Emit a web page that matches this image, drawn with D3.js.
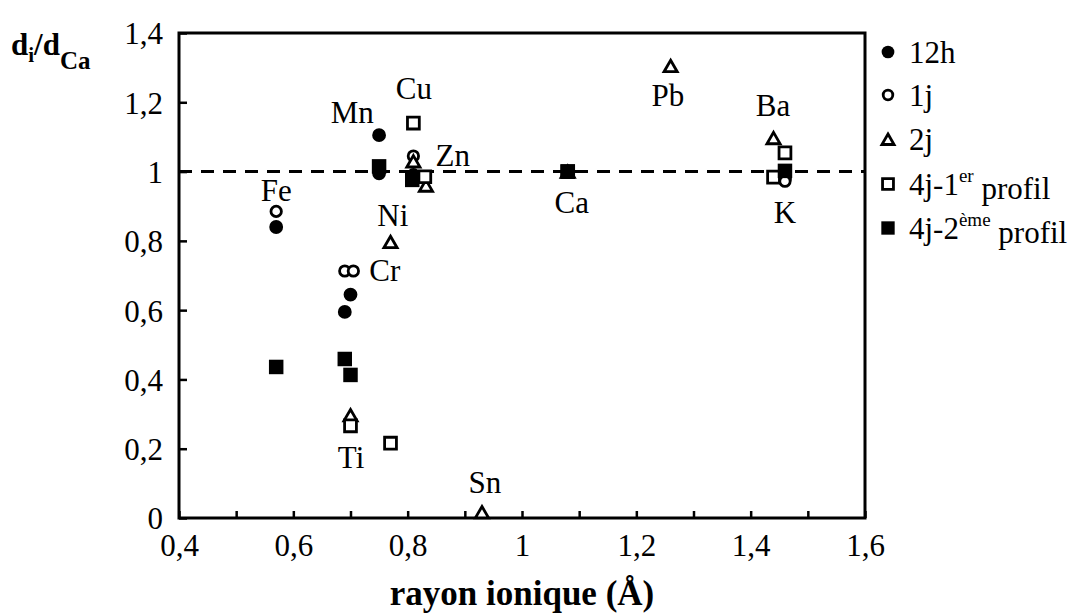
<!DOCTYPE html>
<html><head><meta charset="utf-8">
<script src="https://cdn.jsdelivr.net/npm/d3@7/dist/d3.min.js"></script>
<style>body{margin:0;background:#fff}svg{display:block}svg text{font-family:"Liberation Serif","Times New Roman",serif !important;fill:#000}</style>
</head><body><svg id="c" width="1076" height="614"></svg>
<script>
// ---- data ----
const s12h = [[0.57,0.84],[0.75,1.105],[0.75,0.995],[0.81,0.99],[0.69,0.595],[0.70,0.645],[1.08,1.0],[1.46,0.98]];
const s1j  = [[0.57,0.885],[0.81,1.045],[0.69,0.713],[0.705,0.713],[1.08,1.0],[1.46,0.972]];
const s2j  = [[0.81,1.03],[0.832,0.96],[0.77,0.797],[0.70,0.297],[0.93,0.017],[1.08,1.0],[1.26,1.305],[1.44,1.097]];
const s4j1 = [[0.81,1.14],[0.83,0.985],[0.70,0.266],[0.77,0.216],[1.08,1.0],[1.46,1.054],[1.44,0.984]];
const s4j2 = [[0.57,0.436],[0.69,0.459],[0.70,0.413],[0.75,1.015],[0.808,0.976],[1.08,1.0],[1.46,1.002]];
const elementNames = ["Fe","Mn","Cu","Zn","Ni","Cr","Ti","Sn","Ca","Pb","Ba","K"];
const elementPos = [[0.57,0.947],[0.703,1.172],[0.811,1.241],[0.879,1.048],[0.774,0.875],[0.76,0.716],[0.701,0.176],[0.935,0.104],[1.087,0.912],[1.255,1.221],[1.439,1.192],[1.46,0.883]];
const xTicks = [0.4,0.5,0.6,0.7,0.8,0.9,1.0,1.1,1.2,1.3,1.4,1.5,1.6];
const yTicks = [0,0.2,0.4,0.6,0.8,1.0,1.2,1.4];
const refLine = 1;
const seriesNames = ["12h","1j","2j","4j-1","4j-2"];

// ---- chart ----
const svg = d3.select("#c");
const L=179, R=865, T=33, B=518;
const FS = 31;
const x = d3.scaleLinear().domain([0.4,1.6]).range([L,R]);
const y = d3.scaleLinear().domain([0,1.4]).range([B,T]);
const fmt = v => String(+v.toFixed(1)).replace(".",",");

const gx = svg.append("g").attr("transform",`translate(0,${B})`)
  .call(d3.axisBottom(x).tickValues(xTicks).tickSize(-7).tickPadding(16)
    .tickFormat(d => Math.round(d*10)%2===0 ? fmt(d) : ""));
const gy = svg.append("g").attr("transform",`translate(${L},0)`)
  .call(d3.axisLeft(y).tickValues(yTicks).tickSize(-8).tickPadding(16).tickFormat(fmt));
[gx,gy].forEach(g=>{
  g.attr("font-family","Liberation Serif");
  g.select(".domain").remove();
  g.selectAll(".tick line").attr("stroke","#000").attr("stroke-width",2.5);
  g.selectAll(".tick text").attr("font-size",FS);
});
gy.selectAll(".tick text").attr("dy","0.35em");

svg.append("rect").attr("x",L).attr("y",T).attr("width",R-L).attr("height",B-T)
  .attr("fill","none").attr("stroke","#000").attr("stroke-width",3);

svg.append("line").attr("x1",x(0.4)).attr("x2",x(1.6)).attr("y1",y(refLine)).attr("y2",y(refLine))
  .attr("stroke","#000").attr("stroke-width",3).attr("stroke-dasharray","13,9");

const sym = {
  "12h": {type:d3.symbolCircle, size:150, fill:"#000", stroke:"none", sw:0},
  "1j":  {type:d3.symbolCircle, size:85, fill:"#fff", stroke:"#000", sw:2.8},
  "2j":  {type:d3.symbolTriangle, size:75, fill:"#fff", stroke:"#000", sw:2.8},
  "4j-1":{type:d3.symbolSquare, size:140, fill:"#fff", stroke:"#000", sw:2.8},
  "4j-2":{type:d3.symbolSquare, size:210, fill:"#000", stroke:"none", sw:0}
};
const seriesData = [s12h,s1j,s2j,s4j1,s4j2];
seriesNames.forEach((n,i)=>{
  const s = sym[n];
  svg.append("g").selectAll("path").data(seriesData[i]).join("path")
    .attr("d", d3.symbol().type(s.type).size(s.size))
    .attr("transform", d=>`translate(${x(d[0])},${y(d[1]) + (n==="2j"?2:0)})`)
    .attr("fill", s.fill).attr("stroke", s.stroke).attr("stroke-width", s.sw);
});

svg.append("g").selectAll("text").data(elementNames).join("text")
  .attr("x",(d,i)=>x(elementPos[i][0])).attr("y",(d,i)=>y(elementPos[i][1]))
  .attr("dy","0.35em").attr("text-anchor","middle").attr("font-size",FS).text(d=>d);

// legend
const lg = svg.append("g");
const legendY = [52,95,139,184,228];
seriesNames.forEach((n,i)=>{
  const s = sym[n];
  lg.append("path").attr("d", d3.symbol().type(s.type).size(s.size*0.85))
    .attr("transform",`translate(888,${legendY[i] + (n==="2j"?2:0)})`)
    .attr("fill", s.fill).attr("stroke", s.stroke).attr("stroke-width", s.sw);
  const t = lg.append("text").attr("x",909).attr("y",legendY[i]).attr("dy","0.35em").attr("font-size",FS);
  if(n==="4j-1"){ t.append("tspan").text("4j-1"); t.append("tspan").attr("font-size",19).attr("dy","-0.7em").text("er");
    t.append("tspan").attr("dy","0.55em").text(" profil"); }
  else if(n==="4j-2"){ t.append("tspan").text("4j-2"); t.append("tspan").attr("font-size",19).attr("dy","-0.7em").text("ème");
    t.append("tspan").attr("dy","0.55em").text(" profil"); }
  else t.text(n);
});

// axis titles
const yt = svg.append("text").attr("x",11).attr("y",55).attr("font-weight","bold").attr("font-size",31);
yt.append("tspan").text("d");
yt.append("tspan").attr("font-size",21).attr("dy",7).text("i");
yt.append("tspan").attr("dy",-7).text("/d");
yt.append("tspan").attr("font-size",25).attr("dy",14).text("Ca");

svg.append("text").attr("x",(L+R)/2).attr("y",605).attr("text-anchor","middle")
  .attr("font-weight","bold").attr("font-size",35).text("rayon ionique (Å)");
</script></body></html>
